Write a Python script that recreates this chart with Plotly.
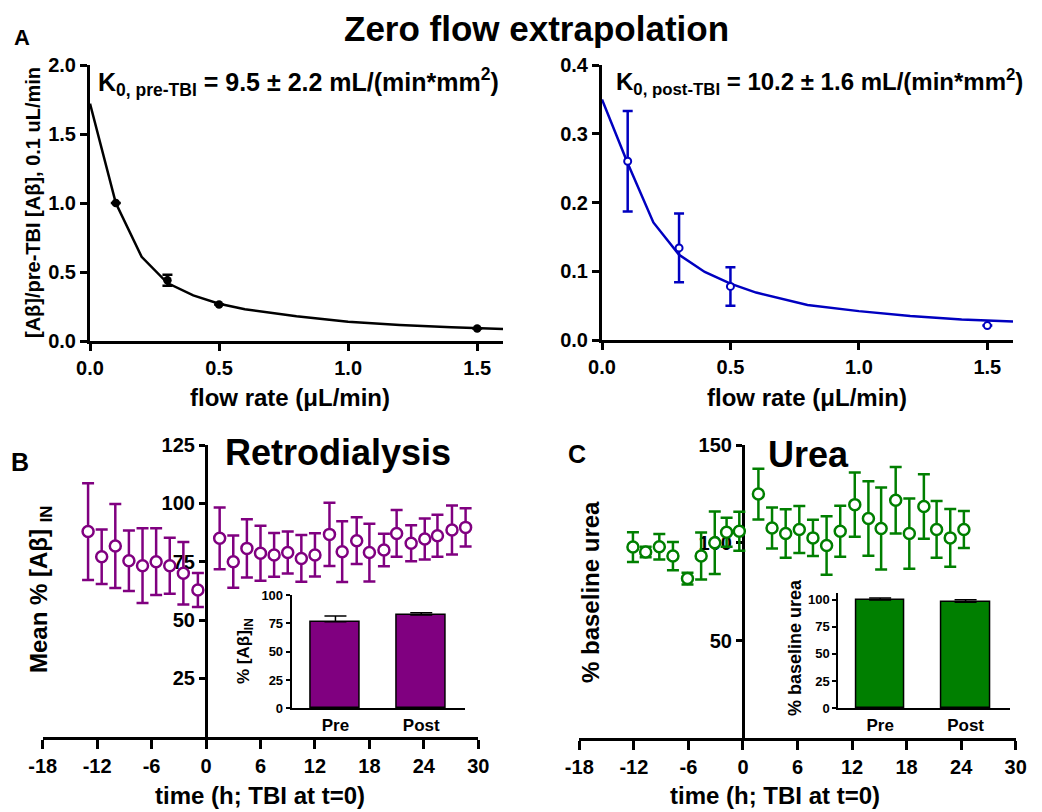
import plotly.graph_objects as go

# ---------------- data ----------------
# Panel A (left): pre-TBI zero-flow extrapolation
flow_pts = [0.1, 0.3, 0.5, 1.5]
pre_vals = [1.0, 0.44, 0.265, 0.09]
pre_err = [None, 0.04, None, None]
fit_flow = [0.0, 0.1, 0.2, 0.3, 0.4, 0.5, 0.6, 0.8, 1.0, 1.2, 1.4, 1.6]
fit_pre = [1.72, 1.0, 0.61, 0.42, 0.33, 0.27, 0.23, 0.18, 0.14, 0.116, 0.10, 0.087]

# Panel A (right): post-TBI
post_vals = [0.26, 0.134, 0.078, 0.021]
post_err = [0.073, 0.05, 0.028, None]
fit_post = [0.35, 0.257, 0.171, 0.124, 0.099, 0.082, 0.069, 0.051, 0.042, 0.035, 0.030, 0.027]

# Panel B: retrodialysis
retro_t = [-13.0, -11.5, -10.0, -8.5, -7.0, -5.5, -4.0, -2.5, -0.9,
           1.5, 3.0, 4.5, 6.0, 7.5, 9.0, 10.5, 12.0, 13.6, 15.0, 16.6,
           18.0, 19.6, 21.0, 22.6, 24.1, 25.5, 27.1, 28.6]
retro_mean = [87.9, 77.1, 81.7, 75.4, 73.3, 75.0, 73.3, 70.0, 62.9,
              85.0, 75.0, 80.7, 78.6, 77.9, 78.9, 76.4, 77.9, 86.7, 79.3, 84.0,
              78.9, 80.0, 87.1, 82.9, 84.7, 86.1, 88.6, 89.7]
retro_sem = [20.7, 11.7, 18.0, 13.0, 16.0, 14.3, 12.0, 13.4, 7.3,
             13.2, 11.2, 12.5, 11.8, 9.4, 9.0, 10.0, 9.3, 13.5, 13.0, 10.0,
             12.4, 7.0, 10.0, 7.7, 8.8, 9.0, 10.5, 8.2]
retro_groups = ["Pre", "Post"]
retro_bar = [76.5, 82.3]
retro_bar_err = [5.0, 2.0]

# Panel C: urea
urea_t = [-12.1, -10.7, -9.2, -7.7, -6.1, -4.6, -3.1, -1.8, -0.4,
          1.7, 3.2, 4.7, 6.2, 7.7, 9.2, 10.7, 12.3, 13.8, 15.2, 16.8,
          18.3, 19.9, 21.3, 22.8, 24.3]
urea_mean = [97.8, 95.3, 98.0, 93.2, 81.7, 93.2, 100.0, 105.4, 105.9,
             124.9, 107.6, 104.7, 106.8, 102.5, 98.6, 105.9, 119.5, 112.4, 107.3, 121.7,
             104.7, 118.6, 106.8, 102.5, 106.8]
urea_sem = [7.6, 2.7, 6.5, 7.2, 3.0, 12.0, 16.0, 7.4, 10.0,
            13.0, 10.5, 12.4, 12.0, 9.3, 15.0, 13.0, 16.4, 19.0, 21.0, 17.0,
            18.0, 16.5, 14.5, 14.8, 9.5]
urea_groups = ["Pre", "Post"]
urea_bar = [99.5, 97.5]
urea_bar_err = [1.8, 2.3]

time_ticks = [-18, -12, -6, 0, 6, 12, 18, 24, 30]
time_labels = ["-18", "-12", "-6", "0", "6", "12", "18", "24", "30"]

# ---------------- style ----------------
F = "Liberation Sans, Arial, Helvetica, sans-serif"
PURPLE = "#800080"
GREEN = "#007F00"
BLUE = "#0000C0"
OFF = 8                      # page body margin
W, H = 1042 - OFF, 812 - OFF  # figure size so that the page fits the window


def px_x(a, b):
    return [(a - OFF) / W, (b - OFF) / W]


def px_y(top, bottom):
    return [1 - (bottom - OFF) / H, 1 - (top - OFF) / H]


def pos_x(a):
    return (a - OFF) / W


def axis(size=20, lw=3, tl=7, tw=2.5, **kw):
    d = dict(showline=True, linecolor="black", linewidth=lw, ticks="outside",
             ticklen=tl, tickwidth=tw, tickcolor="black", showgrid=False,
             zeroline=False, automargin=False, layer="below traces",
             tickfont=dict(family=F, size=size, color="black", weight="bold"))
    d.update(kw)
    return d


fig = go.Figure()

# A left
fig.add_trace(go.Scatter(x=fit_flow, y=fit_pre, mode="lines",
                         line=dict(color="black", width=2.5),
                         xaxis="x", yaxis="y", showlegend=False))
fig.add_trace(go.Scatter(x=flow_pts, y=pre_vals, mode="markers",
                         marker=dict(color="black", size=8.5),
                         error_y=dict(type="data", array=pre_err, color="black",
                                      thickness=2.5, width=5),
                         xaxis="x", yaxis="y", showlegend=False))
# A right
fig.add_trace(go.Scatter(x=fit_flow, y=fit_post, mode="lines",
                         line=dict(color=BLUE, width=2.5),
                         xaxis="x2", yaxis="y2", showlegend=False))
fig.add_trace(go.Scatter(x=flow_pts, y=post_vals, mode="markers",
                         marker=dict(color="white", size=7,
                                     line=dict(color=BLUE, width=2)),
                         error_y=dict(type="data", array=post_err, color=BLUE,
                                      thickness=2.5, width=5),
                         xaxis="x2", yaxis="y2", showlegend=False))
# B
fig.add_trace(go.Scatter(x=retro_t, y=retro_mean, mode="markers",
                         marker=dict(color="white", size=11,
                                     line=dict(color=PURPLE, width=2.5)),
                         error_y=dict(type="data", array=retro_sem, color=PURPLE,
                                      thickness=2.5, width=6),
                         xaxis="x3", yaxis="y3", showlegend=False))
fig.add_trace(go.Bar(x=[0, 1], y=retro_bar, width=0.57,
                     marker=dict(color=PURPLE, line=dict(color="black", width=1.5)),
                     error_y=dict(type="data", array=retro_bar_err,
                                  arrayminus=[0, 0], symmetric=False,
                                  color="black", thickness=1.5, width=11),
                     xaxis="x4", yaxis="y4", showlegend=False))
# C
fig.add_trace(go.Scatter(x=urea_t, y=urea_mean, mode="markers",
                         marker=dict(color="white", size=11,
                                     line=dict(color=GREEN, width=2.5)),
                         error_y=dict(type="data", array=urea_sem, color=GREEN,
                                      thickness=2.5, width=6),
                         xaxis="x5", yaxis="y5", showlegend=False))
fig.add_trace(go.Bar(x=[0, 1], y=urea_bar, width=0.57,
                     marker=dict(color=GREEN, line=dict(color="black", width=1.5)),
                     error_y=dict(type="data", array=urea_bar_err,
                                  arrayminus=[0, 0], symmetric=False,
                                  color="black", thickness=1.5, width=11),
                     xaxis="x6", yaxis="y6", showlegend=False))

layout = dict(
    template="none",
    width=W, height=H, margin=dict(l=0, r=0, t=0, b=0, pad=0, autoexpand=False),
    paper_bgcolor="white", plot_bgcolor="rgba(0,0,0,0)",
    font=dict(family=F, color="black"),
    showlegend=False,
    bargap=0,
    xaxis=axis(domain=px_x(90, 503), anchor="y", range=[0, 1.6],
               tickvals=[0, 0.5, 1.0, 1.5], tickformat=".1f"),
    yaxis=axis(domain=px_y(65, 341), anchor="x", range=[0, 2.0],
               tickvals=[0, 0.5, 1.0, 1.5, 2.0], tickformat=".1f"),
    xaxis2=axis(domain=px_x(602, 1013), anchor="y2", range=[0, 1.6],
                tickvals=[0, 0.5, 1.0, 1.5], tickformat=".1f"),
    yaxis2=axis(domain=px_y(65, 340), anchor="x2", range=[0, 0.4],
                tickvals=[0, 0.1, 0.2, 0.3, 0.4], tickformat=".1f"),
    xaxis3=axis(domain=px_x(42.7, 478.3), anchor="y3", range=[-18, 30],
                tickvals=time_ticks, ticktext=time_labels, ticklen=9),
    yaxis3=axis(domain=px_y(445, 736.7), anchor="free",
                position=pos_x(205.9), range=[0, 125],
                tickvals=[25, 50, 75, 100, 125], ticklen=6),
    xaxis4=axis(size=17, lw=2, tl=0, domain=px_x(291.7, 465), anchor="y4",
                range=[-0.51, 1.51], tickvals=[0, 1], ticktext=retro_groups,
                ticks=""),
    yaxis4=axis(size=13, lw=2, tl=4, tw=1.5, domain=px_y(595, 708.3),
                anchor="x4", range=[0, 100], tickvals=[0, 25, 50, 75, 100]),
    xaxis5=axis(domain=px_x(579.3, 1015.7), anchor="y5", range=[-18, 30],
                tickvals=time_ticks, ticktext=time_labels, ticklen=9),
    yaxis5=axis(domain=px_y(445, 738.3), anchor="free",
                position=pos_x(742.95), range=[0, 150],
                tickvals=[50, 100, 150], ticklen=6),
    xaxis6=axis(size=17, lw=2, tl=0, domain=px_x(838.3, 1010), anchor="y6",
                range=[-0.49, 1.52], tickvals=[0, 1], ticktext=urea_groups,
                ticks=""),
    yaxis6=axis(size=13, lw=2, tl=4, tw=1.5, domain=px_y(593, 708.3),
                anchor="x6", range=[0, 106], tickvals=[0, 25, 50, 75, 100]),
)


def ann(text, x, y, size, angle=0, xanchor="center", yanchor="middle"):
    return dict(text=text, x=(x - OFF) / W, y=1 - (y - OFF) / H,
                xref="paper", yref="paper",
                showarrow=False, textangle=angle, xanchor=xanchor,
                yanchor=yanchor,
                font=dict(family=F, size=size, color="black", weight="bold"))


layout["annotations"] = [
    ann("Zero flow extrapolation", 536, 28, 35),
    ann("A", 22, 38, 22),
    ann("B", 20, 462, 25),
    ann("C", 577, 454, 25),
    ann("Retrodialysis", 338, 452, 36),
    ann("Urea", 808, 454, 36),
    ann("K<sub>0, pre-TBI</sub> = 9.5 ± 2.2 mL/(min*mm<sup>2</sup>)", 96, 82, 25,
        xanchor="left"),
    ann("K<sub>0, post-TBI</sub> = 10.2 ± 1.6 mL/(min*mm<sup>2</sup>)", 614, 82, 24,
        xanchor="left"),
    ann("[Aβ]/pre-TBI [Aβ], 0.1 uL/min", 33, 203, 20, angle=-90),
    ann("flow rate (μL/min)", 290, 398, 24),
    ann("flow rate (μL/min)", 807, 398, 24),
    ann("Mean % [Aβ] <sub>IN</sub>", 40, 590, 24, angle=-90),
    ann("time (h; TBI at t=0)", 260, 795, 24),
    ann("time (h; TBI at t=0)", 775, 795, 24),
    ann("% [Aβ]<sub>IN</sub>", 245, 651, 17, angle=-90),
    ann("% baseline urea", 590, 592, 24, angle=-90),
    ann("% baseline urea", 795, 648, 18, angle=-90),
]

fig.update_layout(**layout)
fig.write_html("out.html")
